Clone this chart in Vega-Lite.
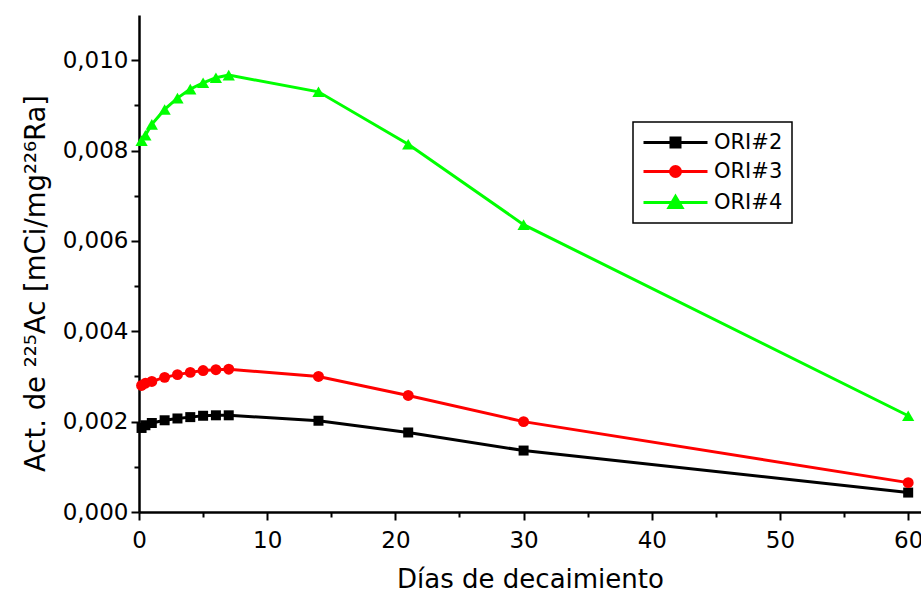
{
  "$schema": "https://vega.github.io/schema/vega-lite/v6.json",
  "width": 782,
  "height": 497,
  "autosize": {"type": "none"},
  "padding": {"left": 139, "top": 15, "right": 0, "bottom": 84},
  "background": "white",
  "config": {
    "view": {"stroke": null},
    "font": "DejaVu Sans",
    "axis": {
      "grid": false,
      "domainColor": "#000000",
      "domainWidth": 2.5,
      "tickColor": "#000000",
      "tickWidth": 2,
      "labelColor": "#000000",
      "labelFont": "DejaVu Sans",
      "labelFontSize": 23,
      "titleColor": "#000000",
      "titleFont": "DejaVu Sans",
      "titleFontSize": 26,
      "titleFontWeight": "normal"
    }
  },
  "data": {
    "values": [
      {"dias": 0.2, "act": 0.00186, "serie": "ORI#2"},
      {"dias": 0.5, "act": 0.00192, "serie": "ORI#2"},
      {"dias": 1, "act": 0.00197, "serie": "ORI#2"},
      {"dias": 2, "act": 0.00203, "serie": "ORI#2"},
      {"dias": 3, "act": 0.00207, "serie": "ORI#2"},
      {"dias": 4, "act": 0.0021, "serie": "ORI#2"},
      {"dias": 5, "act": 0.00213, "serie": "ORI#2"},
      {"dias": 6, "act": 0.00214, "serie": "ORI#2"},
      {"dias": 7, "act": 0.00214, "serie": "ORI#2"},
      {"dias": 14, "act": 0.00202, "serie": "ORI#2"},
      {"dias": 21, "act": 0.00176, "serie": "ORI#2"},
      {"dias": 30, "act": 0.00136, "serie": "ORI#2"},
      {"dias": 60, "act": 0.00043, "serie": "ORI#2"},
      {"dias": 0.2, "act": 0.0028, "serie": "ORI#3"},
      {"dias": 0.5, "act": 0.00285, "serie": "ORI#3"},
      {"dias": 1, "act": 0.00289, "serie": "ORI#3"},
      {"dias": 2, "act": 0.00298, "serie": "ORI#3"},
      {"dias": 3, "act": 0.00304, "serie": "ORI#3"},
      {"dias": 4, "act": 0.00309, "serie": "ORI#3"},
      {"dias": 5, "act": 0.00313, "serie": "ORI#3"},
      {"dias": 6, "act": 0.00315, "serie": "ORI#3"},
      {"dias": 7, "act": 0.00316, "serie": "ORI#3"},
      {"dias": 14, "act": 0.003, "serie": "ORI#3"},
      {"dias": 21, "act": 0.00258, "serie": "ORI#3"},
      {"dias": 30, "act": 0.002, "serie": "ORI#3"},
      {"dias": 60, "act": 0.00065, "serie": "ORI#3"},
      {"dias": 0.2, "act": 0.00822, "serie": "ORI#4"},
      {"dias": 0.5, "act": 0.00834, "serie": "ORI#4"},
      {"dias": 1, "act": 0.00858, "serie": "ORI#4"},
      {"dias": 2, "act": 0.00891, "serie": "ORI#4"},
      {"dias": 3, "act": 0.00916, "serie": "ORI#4"},
      {"dias": 4, "act": 0.00936, "serie": "ORI#4"},
      {"dias": 5, "act": 0.0095, "serie": "ORI#4"},
      {"dias": 6, "act": 0.00961, "serie": "ORI#4"},
      {"dias": 7, "act": 0.00967, "serie": "ORI#4"},
      {"dias": 14, "act": 0.0093, "serie": "ORI#4"},
      {"dias": 21, "act": 0.00814, "serie": "ORI#4"},
      {"dias": 30, "act": 0.00636, "serie": "ORI#4"},
      {"dias": 60, "act": 0.00213, "serie": "ORI#4"}
    ]
  },
  "encoding": {
    "x": {
      "field": "dias",
      "type": "quantitative",
      "scale": {"domain": [0, 61], "nice": false, "zero": false},
      "axis": {
        "title": "Días de decaimiento",
        "values": [0, 5, 10, 15, 20, 25, 30, 35, 40, 45, 50, 55, 60],
        "labelExpr": "datum.value % 10 === 0 ? datum.label : ''",
        "tickSize": {"condition": {"test": "datum.value % 10 === 0", "value": 8}, "value": 5},
        "labelPadding": 9,
        "titlePadding": 14,
        "labelFlush": false
      }
    },
    "y": {
      "field": "act",
      "type": "quantitative",
      "scale": {"domain": [0, 0.011], "nice": false},
      "axis": {
        "title": "Act. de ²²⁵Ac [mCi/mg²²⁶Ra]",
        "titleFontSize": 27.5,
        "titleY": 268,
        "values": [0, 0.001, 0.002, 0.003, 0.004, 0.005, 0.006, 0.007, 0.008, 0.009, 0.01],
        "labelExpr": "round(datum.value * 1000) % 2 === 0 ? replace(format(datum.value, '.3f'), '.', ',') : ''",
        "tickSize": {"condition": {"test": "round(datum.value * 1000) % 2 === 0", "value": 8}, "value": 5},
        "labelPadding": 3,
        "titlePadding": 12,
        "labelFlush": false
      }
    },
    "color": {
      "field": "serie",
      "type": "nominal",
      "scale": {"domain": ["ORI#2", "ORI#3", "ORI#4"], "range": ["#000000", "#ff0000", "#00ff00"]},
      "legend": {
        "title": null,
        "orient": "none",
        "legendX": 494,
        "legendY": 107,
        "padding": 9,
        "fillColor": "white",
        "strokeColor": "#000000",
        "cornerRadius": 0,
        "labelFont": "DejaVu Sans",
        "labelFontSize": 21,
        "labelColor": "#000000",
        "labelOffset": 49,
        "rowPadding": 7,
        "symbolSize": 400,
        "symbolStrokeWidth": 3,
        "encode": {
          "legend": {
            "update": {
              "strokeWidth": {"value": 1.5}
            }
          },
          "symbols": {
            "update": {
              "shape": {"signal": "datum.value === 'ORI#2' ? 'M-1,0H5.4M1.75,-0.45H2.65V0.45H1.75Z' : datum.value === 'ORI#3' ? 'M-1,0H5.4M1.7,0A0.5,0.5 0 1,0 2.7,0A0.5,0.5 0 1,0 1.7,0Z' : 'M-1,0H5.4M2.2,-0.6L2.85,0.5H1.55Z'"},
              "size": {"value": 400},
              "fill": {"signal": "datum.value === 'ORI#2' ? '#000000' : datum.value === 'ORI#3' ? '#ff0000' : '#00ff00'"},
              "stroke": {"signal": "datum.value === 'ORI#2' ? '#000000' : datum.value === 'ORI#3' ? '#ff0000' : '#00ff00'"},
              "fillOpacity": {"value": 1},
              "strokeOpacity": {"value": 1},
              "strokeWidth": {"value": 3}
            }
          }
        }
      }
    }
  },
  "layer": [
    {"mark": {"type": "line", "strokeWidth": 3}},
    {
      "transform": [{"filter": "datum.serie === 'ORI#2'"}],
      "mark": {"type": "point", "shape": "square", "size": 100, "filled": true, "opacity": 1}
    },
    {
      "transform": [{"filter": "datum.serie === 'ORI#3'"}],
      "mark": {"type": "point", "shape": "circle", "size": 120, "filled": true, "opacity": 1}
    },
    {
      "transform": [{"filter": "datum.serie === 'ORI#4'"}],
      "mark": {"type": "point", "shape": "triangle-up", "size": 150, "filled": true, "opacity": 1}
    }
  ]
}
